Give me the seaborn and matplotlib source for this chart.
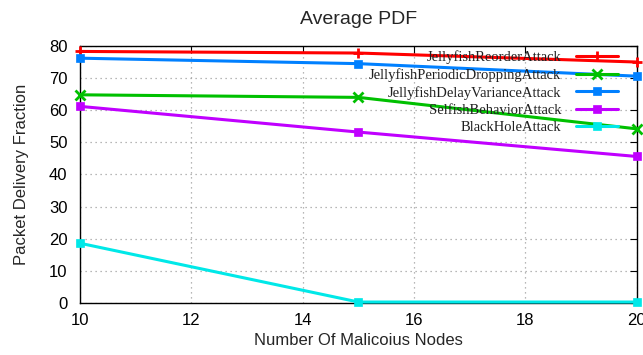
import matplotlib
matplotlib.use("Agg")
import matplotlib.pyplot as plt
import pandas as pd
import seaborn as sns

# Number of malicious nodes per scenario
nodes = [10, 15, 20]

# Average packet delivery fraction for each attack type
reorder = [78.3, 77.8, 75.0]
periodic_dropping = [64.8, 64.0, 54.2]
delay_variance = [76.2, 74.5, 70.6]
selfish = [61.2, 53.2, 45.6]
black_hole = [18.6, 0.3, 0.3]

series_names = [
    "JellyfishReorderAttack",
    "JellyfishPeriodicDroppingAttack",
    "JellyfishDelayVarianceAttack",
    "SelfishBehaviorAttack",
    "BlackHoleAttack",
]
series_values = [reorder, periodic_dropping, delay_variance, selfish, black_hole]
colors = ["#ff0000", "#00c000", "#0080ff", "#c000ff", "#00e8e8"]
markers = ["+", "x", "s", "s", "s"]

x_ticks = [10, 12, 14, 16, 18, 20]
y_ticks = [0, 10, 20, 30, 40, 50, 60, 70, 80]

df = pd.DataFrame(
    [
        {"nodes": n, "pdf": v, "attack": name}
        for name, vals in zip(series_names, series_values)
        for n, v in zip(nodes, vals)
    ]
)

sns.set_style("white")
plt.rcParams["font.family"] = ["Liberation Sans", "DejaVu Sans"]

fig = plt.figure(figsize=(6.43, 3.55), dpi=100)
ax = fig.add_axes([0.1244, 0.1465, 0.866, 0.724])

for name, color, mk in zip(series_names, colors, markers):
    sub = df[df["attack"] == name]
    sns.lineplot(
        data=sub, x="nodes", y="pdf", ax=ax, color=color, marker=mk,
        linewidth=2.2, markersize=6 if mk == "s" else 7,
        markeredgewidth=2.0 if mk in "+x" else 0.5,
        markeredgecolor=color, label=name, clip_on=False, zorder=3,
    )

ax.set_xlim(10, 20)
ax.set_ylim(0, 80)
ax.set_xticks(x_ticks)
ax.set_yticks(y_ticks)
ax.tick_params(axis="both", direction="in", length=5, width=0.8,
               labelsize=12, colors="black", top=True, right=True)
ax.tick_params(axis="y", pad=9)
ax.tick_params(axis="x", pad=7)
ax.grid(True, color="#a0a0a0", linestyle=(0, (1, 3)), linewidth=0.9)
for sp in ax.spines.values():
    sp.set_color("black")
    sp.set_linewidth(1.0)

ax.set_title("Average PDF", fontsize=14, pad=16)
ax.set_xlabel("Number Of Malicoius Nodes", fontsize=12, labelpad=4)
ax.set_ylabel("Packet Delivery Fraction", fontsize=12, labelpad=14)

leg = ax.legend(
    loc="upper right", bbox_to_anchor=(618 / 643, 1 - 50 / 355),
    bbox_transform=fig.transFigure, frameon=False,
    markerfirst=False, handlelength=2.9, handletextpad=1.0,
    labelspacing=0.28, borderaxespad=0.0, borderpad=0.0,
    prop={"family": "Liberation Serif", "size": 10.5},
)
for t in leg.get_texts():
    t.set_color("#202020")

fig.savefig("out.png", dpi=100)
